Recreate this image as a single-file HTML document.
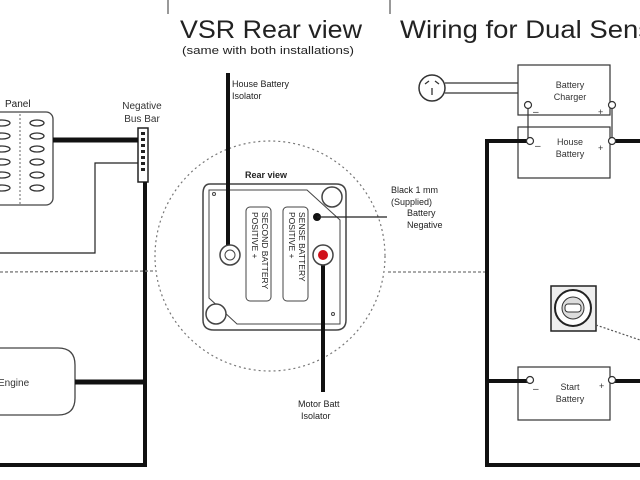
<!DOCTYPE html>
<html><head><style>html,body{margin:0;padding:0;background:#fff}svg{display:block}</style></head>
<body>
<svg width="640" height="480" viewBox="0 0 640 480" xmlns="http://www.w3.org/2000/svg" font-family="Liberation Sans, sans-serif">
<rect width="640" height="480" fill="#fff"/>
<!-- dividers -->
<line x1="168" y1="0" x2="168" y2="14" stroke="#333" stroke-width="1"/>
<line x1="390" y1="0" x2="390" y2="14" stroke="#333" stroke-width="1"/>
<text x="180" y="38" font-size="25" fill="#222" textLength="182" lengthAdjust="spacingAndGlyphs">VSR Rear view</text>
<text x="182" y="54" font-size="11" fill="#222" textLength="172" lengthAdjust="spacingAndGlyphs">(same with both installations)</text>
<text x="400" y="38" font-size="25" fill="#222" textLength="252" lengthAdjust="spacingAndGlyphs">Wiring for Dual Sens</text>

<!-- LEFT -->
<text x="5" y="107" font-size="10" fill="#222">Panel</text>
<rect x="-20" y="112" width="73" height="93" rx="7" fill="#fff" stroke="#444" stroke-width="1.3"/>
<line x1="20" y1="114" x2="20" y2="205" stroke="#666" stroke-dasharray="2,2"/>
<g fill="none" stroke="#333" stroke-width="1.3">
<ellipse cx="2" cy="123" rx="8" ry="3"/><ellipse cx="2" cy="136" rx="8" ry="3"/><ellipse cx="2" cy="149" rx="8" ry="3"/><ellipse cx="2" cy="162" rx="8" ry="3"/><ellipse cx="2" cy="175" rx="8" ry="3"/><ellipse cx="2" cy="188" rx="8" ry="3"/>
<ellipse cx="37" cy="123" rx="7" ry="3"/><ellipse cx="37" cy="136" rx="7" ry="3"/><ellipse cx="37" cy="149" rx="7" ry="3"/><ellipse cx="37" cy="162" rx="7" ry="3"/><ellipse cx="37" cy="175" rx="7" ry="3"/><ellipse cx="37" cy="188" rx="7" ry="3"/>
</g>
<text x="142" y="109" font-size="10" fill="#333" text-anchor="middle">Negative</text>
<text x="142" y="122" font-size="10" fill="#333" text-anchor="middle">Bus Bar</text>
<rect x="138" y="128" width="10" height="54" fill="#fff" stroke="#222" stroke-width="1.5"/>
<g fill="#222"><rect x="141" y="132" width="4" height="3"/><rect x="141" y="138" width="4" height="3"/><rect x="141" y="144" width="4" height="3"/><rect x="141" y="150" width="4" height="3"/><rect x="141" y="156" width="4" height="3"/><rect x="141" y="162" width="4" height="3"/><rect x="141" y="168" width="4" height="3"/></g>
<line x1="53" y1="140" x2="138" y2="140" stroke="#111" stroke-width="5"/>
<polyline points="138,163 95,163 95,253 0,253" fill="none" stroke="#222" stroke-width="1.2"/>
<polyline points="145,182 145,465 0,465" fill="none" stroke="#111" stroke-width="4"/>
<path d="M-20,348 H58 Q75,348 75,365 V398 Q75,415 58,415 H-20 Z" fill="#fff" stroke="#444" stroke-width="1.3"/>
<text x="-2" y="386" font-size="10" fill="#333">Engine</text>
<line x1="75" y1="382" x2="145" y2="382" stroke="#111" stroke-width="5"/>
<line x1="0" y1="272" x2="155" y2="271" stroke="#777" stroke-width="1.3" stroke-dasharray="3,2"/>

<!-- CENTER -->
<circle cx="270" cy="256" r="115" fill="none" stroke="#777" stroke-width="1.2" stroke-dasharray="2,3"/>
<text x="232" y="87" font-size="9" fill="#222">House Battery</text>
<text x="232" y="99" font-size="9" fill="#222">Isolator</text>
<text x="245" y="178" font-size="9" fill="#222" font-weight="bold">Rear view</text>
<path d="M210,184 H336 Q346,184 346,194 V320 Q346,330 336,330 H214 Q203,330 203,320 V194 Q203,184 210,184 Z" fill="#fff" stroke="#444" stroke-width="1.5"/>
<path d="M209,190 H307 L340,220 V324 H237 L209,298 Z" fill="none" stroke="#444" stroke-width="1"/>
<circle cx="332" cy="197" r="10" fill="#fff" stroke="#444" stroke-width="1.5"/>
<circle cx="216" cy="314" r="10" fill="#fff" stroke="#444" stroke-width="1.5"/>
<circle cx="214" cy="194" r="1.5" fill="none" stroke="#444"/>
<circle cx="333" cy="314" r="1.5" fill="none" stroke="#444"/>
<rect x="246" y="207" width="25" height="94" rx="4" fill="#fff" stroke="#444"/>
<rect x="283" y="207" width="25" height="94" rx="4" fill="#fff" stroke="#444"/>
<text transform="translate(262,212) rotate(90)" font-size="8.5" fill="#222">SECOND BATTERY</text>
<text transform="translate(252,212) rotate(90)" font-size="8.5" fill="#222">POSITIVE +</text>
<text transform="translate(299,212) rotate(90)" font-size="8.5" fill="#222">SENSE BATTERY</text>
<text transform="translate(289,212) rotate(90)" font-size="8.5" fill="#222">POSITIVE +</text>
<line x1="228" y1="73" x2="228" y2="248" stroke="#111" stroke-width="4"/>
<circle cx="230" cy="255" r="10" fill="#fff" stroke="#444" stroke-width="1.5"/>
<circle cx="230" cy="255" r="5" fill="#fff" stroke="#444"/>
<line x1="323" y1="258" x2="323" y2="392" stroke="#111" stroke-width="4"/>
<circle cx="323" cy="255" r="10" fill="#fff" stroke="#444" stroke-width="1.5"/>
<circle cx="323" cy="255" r="5" fill="#d0101a"/>
<circle cx="317" cy="217" r="4" fill="#111"/>
<line x1="317" y1="217" x2="387" y2="217" stroke="#222" stroke-width="1.2"/>
<line x1="388" y1="272" x2="487" y2="272" stroke="#777" stroke-width="1.3" stroke-dasharray="3,2"/>
<text x="391" y="193" font-size="9" fill="#222">Black 1 mm</text>
<text x="391" y="205" font-size="9" fill="#222">(Supplied)</text>
<text x="407" y="216" font-size="9" fill="#222">Battery</text>
<text x="407" y="228" font-size="9" fill="#222">Negative</text>
<text x="298" y="407" font-size="9" fill="#222">Motor Batt</text>
<text x="301" y="419" font-size="9" fill="#222">Isolator</text>

<!-- RIGHT -->
<circle cx="432" cy="88" r="13" fill="#fff" stroke="#333" stroke-width="1.5"/>
<path d="M425,84 L429,81 M439,84 L435,81 M432,88 V95" stroke="#333" stroke-width="1.3" fill="none"/>
<line x1="445" y1="83" x2="518" y2="83" stroke="#333" stroke-width="1.2"/>
<line x1="445" y1="93" x2="518" y2="93" stroke="#333" stroke-width="1.2"/>
<rect x="518" y="65" width="92" height="50" fill="#fff" stroke="#333" stroke-width="1.2"/>
<text x="570" y="88" font-size="9" fill="#333" text-anchor="middle">Battery</text>
<text x="570" y="100" font-size="9" fill="#333" text-anchor="middle">Charger</text>
<rect x="518" y="127" width="92" height="51" fill="#fff" stroke="#333" stroke-width="1.2"/>
<text x="570" y="145" font-size="9" fill="#333" text-anchor="middle">House</text>
<text x="570" y="157" font-size="9" fill="#333" text-anchor="middle">Battery</text>
<line x1="528" y1="108" x2="528" y2="140" stroke="#333" stroke-width="1.2"/>
<line x1="612" y1="108" x2="612" y2="140" stroke="#333" stroke-width="1.2"/>
<polyline points="528,141 487,141 487,465 640,465" fill="none" stroke="#111" stroke-width="4"/>
<line x1="612" y1="141" x2="640" y2="141" stroke="#111" stroke-width="4"/>
<g fill="#fff" stroke="#333" stroke-width="1.2">
<circle cx="528" cy="105" r="3.5"/><circle cx="612" cy="105" r="3.5"/><circle cx="530" cy="141" r="3.5"/><circle cx="612" cy="141" r="3.5"/>
</g>
<text x="533" y="115" font-size="10" fill="#333">–</text><text x="598" y="115" font-size="9" fill="#333">+</text>
<text x="535" y="149" font-size="10" fill="#333">–</text><text x="598" y="151" font-size="9" fill="#333">+</text>
<rect x="551" y="286" width="45" height="45" fill="#eee" stroke="#222" stroke-width="1.5"/>
<circle cx="573" cy="308" r="18" fill="#fff" stroke="#222" stroke-width="2"/>
<circle cx="573" cy="308" r="11" fill="#ddd" stroke="#333"/>
<rect x="565" y="304" width="16" height="8" rx="3" fill="#fff" stroke="#333"/>
<line x1="596" y1="325" x2="640" y2="340" stroke="#555" stroke-width="1.2" stroke-dasharray="2,2"/>
<rect x="518" y="367" width="92" height="53" fill="#fff" stroke="#333" stroke-width="1.2"/>
<line x1="487" y1="381" x2="528" y2="381" stroke="#111" stroke-width="4"/>
<line x1="614" y1="381" x2="640" y2="381" stroke="#111" stroke-width="4"/>
<circle cx="530" cy="380" r="3.5" fill="#fff" stroke="#333" stroke-width="1.2"/>
<circle cx="612" cy="380" r="3.5" fill="#fff" stroke="#333" stroke-width="1.2"/>
<text x="533" y="392" font-size="10" fill="#333">–</text><text x="599" y="389" font-size="9" fill="#333">+</text>
<text x="570" y="390" font-size="9" fill="#333" text-anchor="middle">Start</text>
<text x="570" y="402" font-size="9" fill="#333" text-anchor="middle">Battery</text>
</svg>
</body></html>
